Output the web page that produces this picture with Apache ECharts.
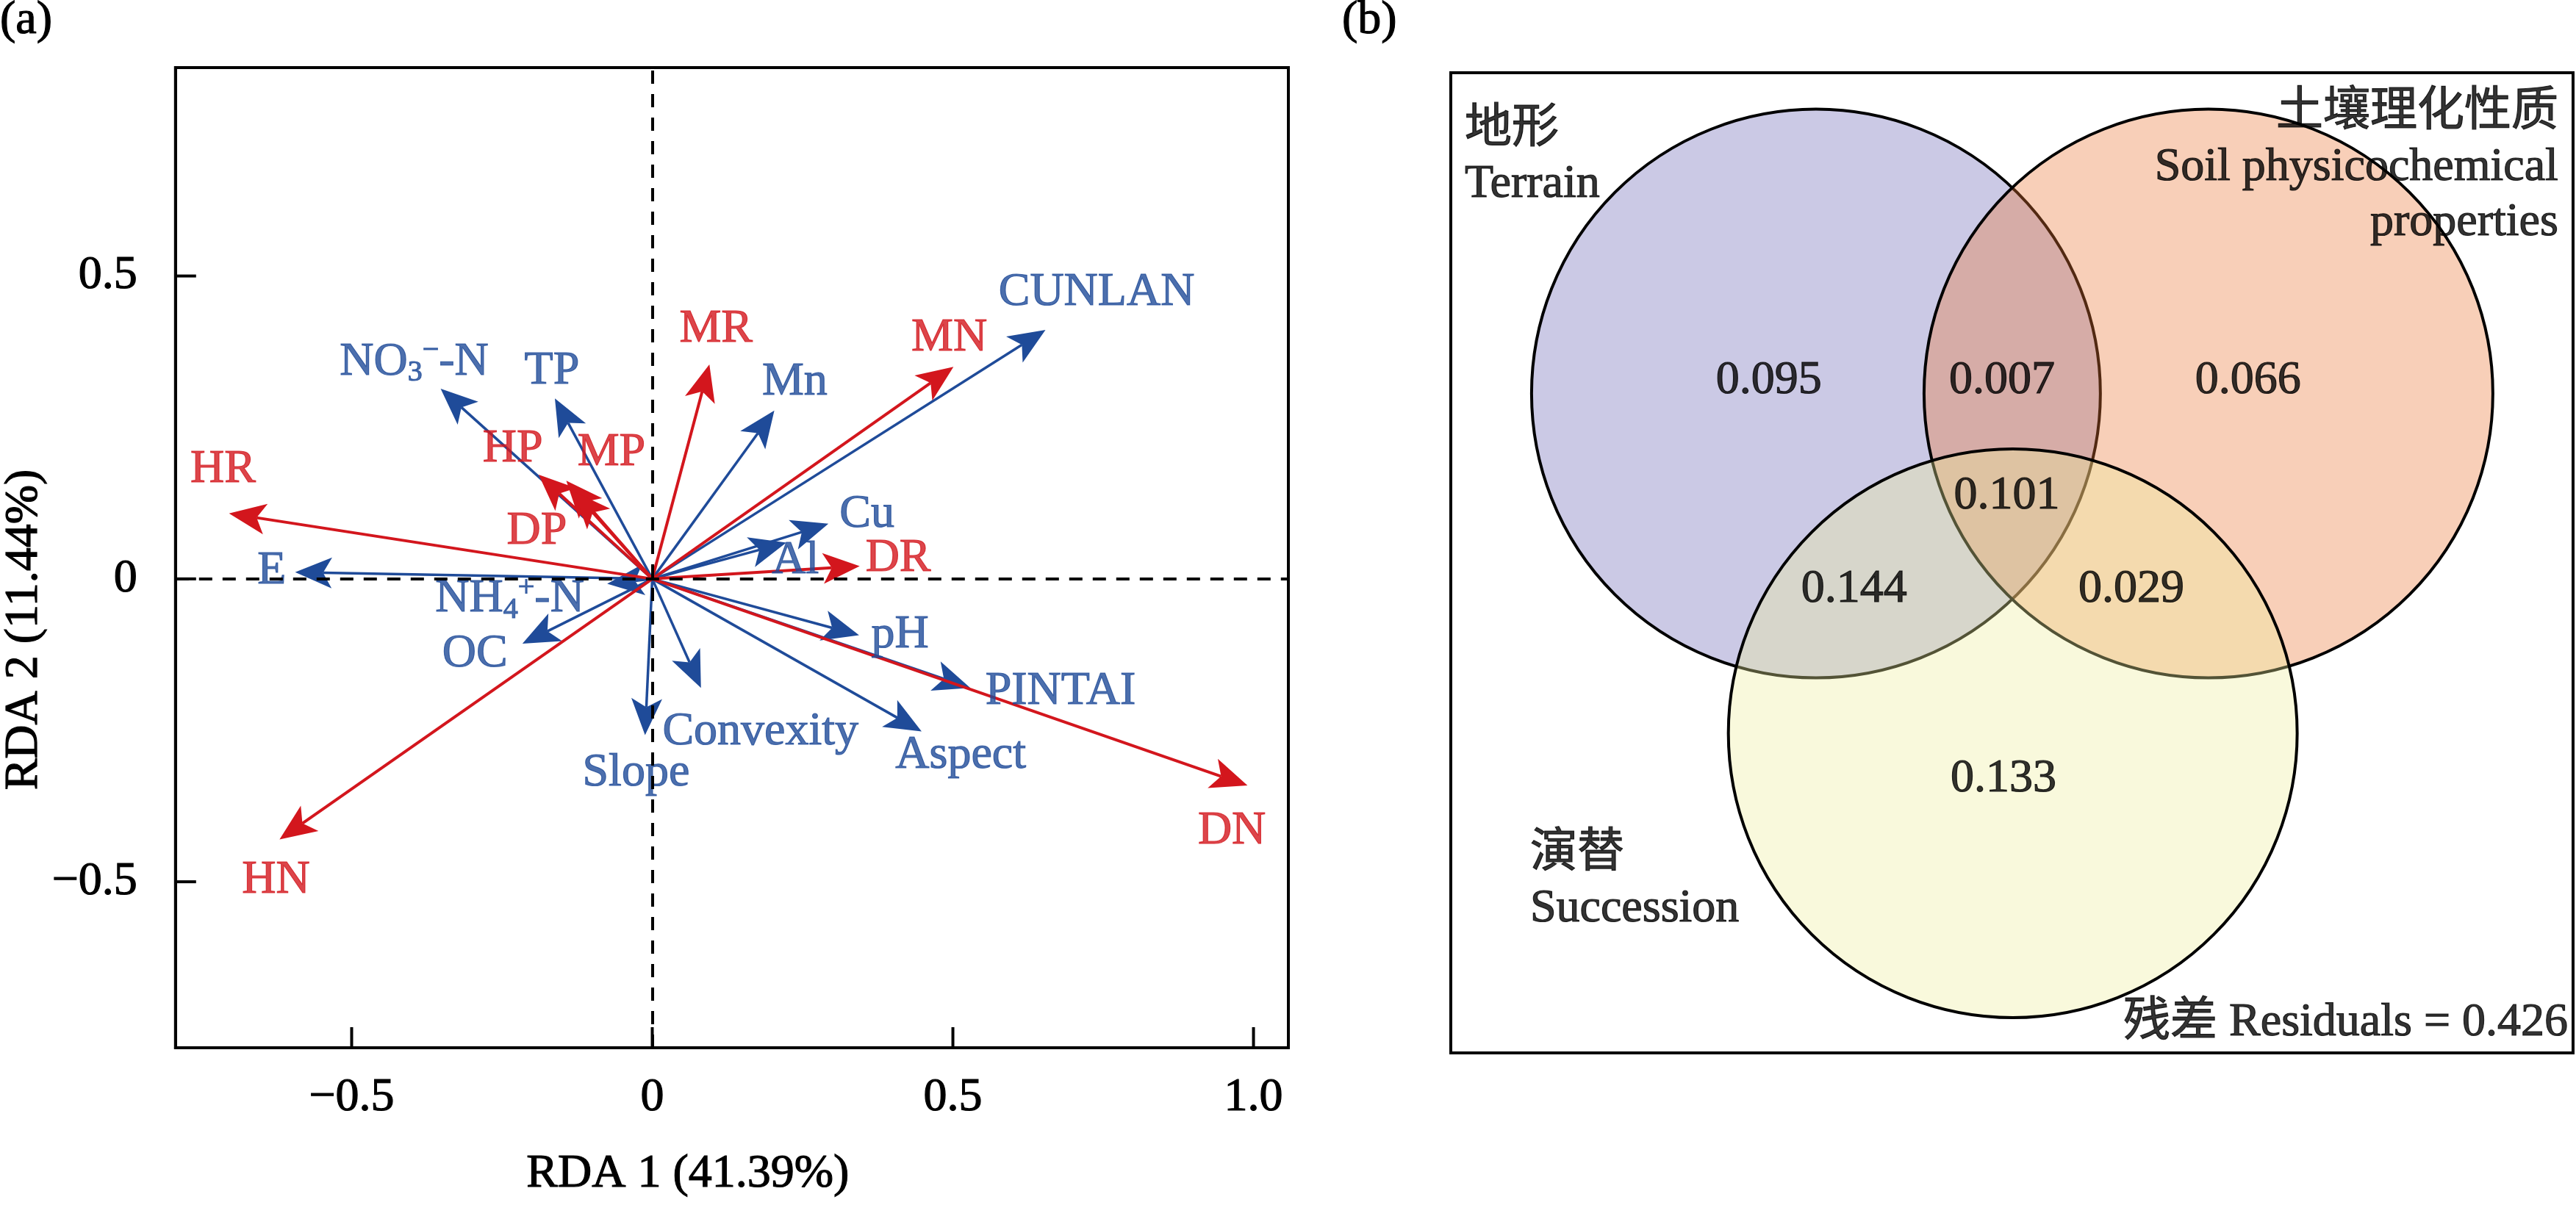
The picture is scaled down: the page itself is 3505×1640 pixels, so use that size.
<!DOCTYPE html>
<html>
<head>
<meta charset="utf-8">
<script src="https://cdn.jsdelivr.net/npm/echarts@6/dist/echarts.min.js"></script>
<style>
html,body{margin:0;padding:0;background:#fff;}
#chart{width:3505px;height:1640px;}
</style>
</head>
<body>
<div id="chart"></div>
<script>
// ---------- Panel (a): RDA biplot data ----------
const redNames = ['HR', 'HN', 'DN', 'MN', 'MR', 'HP', 'MP', 'DP', 'DR'];
const redX = [-0.704, -0.620, 0.990, 0.501, 0.095, -0.189, -0.143, -0.130, 0.345];
const redY = [0.108, -0.430, -0.341, 0.350, 0.354, 0.172, 0.162, 0.144, 0.021];
const redLabelX = [-0.714, -0.626, 0.964, 0.494, 0.106, -0.232, -0.068, -0.192, 0.409];
const redLabelY = [0.180, -0.498, -0.416, 0.398, 0.412, 0.214, 0.208, 0.078, 0.033];

const blueNames = ['CUNLAN', 'Mn', 'Cu', 'Al', 'pH', 'PINTAI', 'Aspect', 'Convexity', 'Slope', 'OC', 'NH4', 'E', 'NO3', 'TP'];
const blueX = [0.654, 0.203, 0.293, 0.223, 0.344, 0.529, 0.448, 0.081, -0.012, -0.216, -0.075, -0.594, -0.352, -0.162];
const blueY = [0.411, 0.278, 0.091, 0.060, -0.093, -0.180, -0.252, -0.180, -0.258, -0.107, -0.008, 0.011, 0.314, 0.298];
const blueLabelX = [0.739, 0.237, 0.357, 0.238, 0.412, 0.679, 0.513, 0.180, -0.027, -0.295, -0.237, -0.633, -0.396, -0.167];
const blueLabelY = [0.473, 0.325, 0.106, 0.030, -0.093, -0.186, -0.291, -0.253, -0.320, -0.124, -0.033, 0.0125, 0.358, 0.343];

const xTicks = [-0.5, 0, 0.5, 1.0];
const yTicks = [-0.5, 0, 0.5];
const xTitle = 'RDA 1 (41.39%)';
const yTitle = 'RDA 2 (11.44%)';

// ---------- Panel (b): variation partitioning (Venn) ----------
const setNames = ['地形\nTerrain', '土壤理化性质\nSoil physicochemical\nproperties', '演替\nSuccession'];
const circleX = [1.284, 2.664, 1.976];
const circleY = [1.128, 1.128, 2.323];
const circleR = [1, 1, 1];
const regionValues = [0.095, 0.007, 0.066, 0.101, 0.144, 0.029, 0.133];
const regionX = [1.118, 1.938, 2.803, 1.955, 1.418, 2.393, 1.943];
const regionY = [1.083, 1.083, 1.083, 1.488, 1.817, 1.817, 2.483];
const setLabelX = [0.049, 3.894, 0.279];
const setLabelY = [0.296, 0.333, 2.845];
const residualValue = 0.426;
const residualX = 3.928, residualY = 3.341;

// ---------- styles ----------
const RED = '#d3161d';
const BLUE = '#1f4b99';
const FONT = '"Liberation Serif", "Times New Roman", "Noto Sans CJK SC", serif';
const FS = 64;
const circleFill = ['rgba(106,101,181,0.35)', 'rgba(235,118,52,0.35)', 'rgba(238,238,155,0.35)'];
const BOLDEN = 1.2;
const TICK_LEN = 28;

function fmtTick(v) {
  if (v === 0) return '0';
  return (v < 0 ? '\u2212' : '') + Math.abs(v).toFixed(1);
}

function arrowRenderer(color, lw) {
  return function (params, api) {
    const o = api.coord([0, 0]);
    const t = api.coord([api.value(0), api.value(1)]);
    const dx = t[0] - o[0], dy = t[1] - o[1];
    const len = Math.hypot(dx, dy) || 1;
    const ux = dx / len, uy = dy / len, px = -uy, py = ux;
    const L = 50, W = 21, N = 12;
    const bx = t[0] - ux * L, by = t[1] - uy * L;
    const nx = t[0] - ux * (L - N), ny = t[1] - uy * (L - N);
    return {
      type: 'group',
      children: [
        { type: 'line', shape: { x1: o[0], y1: o[1], x2: nx, y2: ny }, style: { stroke: color, lineWidth: lw } },
        { type: 'polygon', shape: { points: [[t[0], t[1]], [bx + px * W, by + py * W], [nx, ny], [bx - px * W, by - py * W]] }, style: { fill: color } }
      ]
    };
  };
}

function tickRenderer(params, api) {
  const cs = params.coordSys;
  const isX = api.value(2) === 0;
  if (isX) {
    const x = api.coord([api.value(0), 0])[0];
    const yb = cs.y + cs.height;
    return { type: 'line', shape: { x1: x, y1: yb, x2: x, y2: yb - TICK_LEN }, style: { stroke: '#000', lineWidth: 4 } };
  }
  const y = api.coord([0, api.value(1)])[1];
  return { type: 'line', shape: { x1: cs.x, y1: y, x2: cs.x + TICK_LEN, y2: y }, style: { stroke: '#000', lineWidth: 4 } };
}

function labelText(name) {
  if (name === 'NO3') return '{m|NO}{s|3}{u|\u2212}{m|-N}';
  if (name === 'NH4') return '{m|NH}{s|4}{u|+}{m|-N}';
  return '{m|' + name + '}';
}
function richFor(color) {
  const b = { textBorderColor: color, textBorderWidth: BOLDEN };
  return {
    m: Object.assign({ fontSize: FS, fontFamily: FONT, color: color, lineHeight: 70 }, b),
    s: Object.assign({ fontSize: 40, fontFamily: FONT, color: color, lineHeight: 70, verticalAlign: 'bottom', padding: [22, 0, 0, 0] }, b),
    u: Object.assign({ fontSize: 40, fontFamily: FONT, color: color, lineHeight: 70, verticalAlign: 'top', padding: [0, 0, 26, 0] }, b)
  };
}
const blackText = { fontSize: FS, fontFamily: FONT, color: '#000', textBorderColor: '#000', textBorderWidth: BOLDEN };

const redArrows = redX.map((x, i) => [x, redY[i], redNames[i]]);
const blueArrows = blueX.map((x, i) => [x, blueY[i], blueNames[i]]);
const redLabels = redLabelX.map((x, i) => [x, redLabelY[i], redNames[i]]);
const blueLabels = blueLabelX.map((x, i) => [x, blueLabelY[i], blueNames[i]]);
const tickMarks = xTicks.map(v => [v, 0, 0]).concat(yTicks.map(v => [0, v, 1]));

const circles = circleX.map((x, i) => [x, circleY[i], circleR[i], i]);
const regionLabels = regionX.map((x, i) => [x, regionY[i], regionValues[i]]);
const setLabels = setLabelX.map((x, i) => ({
  value: [x, setLabelY[i], setNames[i]],
  label: { position: i === 1 ? 'left' : 'right', align: i === 1 ? 'right' : 'left' }
}));
setLabels.push({
  value: [residualX, residualY, '残差 Residuals = ' + residualValue.toFixed(3)],
  label: { position: 'left', align: 'right' }
});

const chart = echarts.init(document.getElementById('chart'), null, { renderer: 'canvas', devicePixelRatio: 1 });

const option = {
  animation: false,
  backgroundColor: '#fff',
  title: [
    { text: '(a)', left: 0, top: -4, textStyle: Object.assign({ fontWeight: 'normal' }, blackText), padding: 0 },
    { text: '(b)', left: 1826, top: -4, textStyle: Object.assign({ fontWeight: 'normal' }, blackText), padding: 0 }
  ],
  grid: [
    { left: 224, top: 92, width: 1529, height: 1334, show: true, borderColor: '#000', borderWidth: 4, backgroundColor: 'transparent' },
    { left: 1974, top: 99, width: 1527, height: 1334, show: true, borderColor: '#000', borderWidth: 4, backgroundColor: 'transparent' }
  ],
  xAxis: [
    {
      type: 'value', gridIndex: 0, min: -0.793, max: 1.058, position: 'bottom',
      axisLine: { show: true, onZero: false, lineStyle: { color: '#000', width: 4 } }, splitLine: { show: false },
      axisTick: { show: false },
      axisLabel: Object.assign({ customValues: xTicks, formatter: fmtTick, margin: 36 }, blackText),
      name: xTitle, nameLocation: 'middle', nameGap: 140,
      nameTextStyle: Object.assign({ padding: [0, 120, 0, 0] }, blackText)
    },
    { type: 'value', gridIndex: 1, min: 0, max: 3.946, show: false }
  ],
  yAxis: [
    {
      type: 'value', gridIndex: 0, min: -0.774, max: 0.844, position: 'left',
      axisLine: { show: true, onZero: false, lineStyle: { color: '#000', width: 4 } }, splitLine: { show: false },
      axisTick: { show: false },
      axisLabel: Object.assign({ customValues: yTicks, formatter: fmtTick, margin: 52 }, blackText),
      name: yTitle, nameLocation: 'middle', nameGap: 144,
      nameTextStyle: Object.assign({ padding: [0, 196, 0, 0] }, blackText)
    },
    { type: 'value', gridIndex: 1, min: 0, max: 3.447, inverse: true, show: false }
  ],
  series: [
    {
      type: 'scatter', xAxisIndex: 0, yAxisIndex: 0, data: [], symbolSize: 0, z: 1, silent: true,
      markLine: {
        silent: true, symbol: 'none', label: { show: false },
        lineStyle: { type: [18, 14], color: '#000', width: 4 },
        data: [{ xAxis: 0 }, { yAxis: 0 }]
      }
    },
    {
      type: 'custom', xAxisIndex: 0, yAxisIndex: 0, z: 5, silent: true, clip: false,
      encode: { x: 0, y: 1 }, data: tickMarks, renderItem: tickRenderer
    },
    {
      type: 'custom', xAxisIndex: 0, yAxisIndex: 0, z: 2, silent: true,
      encode: { x: 0, y: 1 }, data: blueArrows, renderItem: arrowRenderer(BLUE, 3.5)
    },
    {
      type: 'custom', xAxisIndex: 0, yAxisIndex: 0, z: 3, silent: true,
      encode: { x: 0, y: 1 }, data: redArrows, renderItem: arrowRenderer(RED, 4)
    },
    {
      type: 'scatter', xAxisIndex: 0, yAxisIndex: 0, z: 4, symbolSize: 0, silent: true,
      data: blueLabels,
      label: { show: true, position: 'inside', formatter: p => labelText(p.value[2]), rich: richFor(BLUE) }
    },
    {
      type: 'scatter', xAxisIndex: 0, yAxisIndex: 0, z: 4, symbolSize: 0, silent: true,
      data: redLabels,
      label: { show: true, position: 'inside', formatter: p => labelText(p.value[2]), rich: richFor(RED) }
    },
    {
      type: 'custom', xAxisIndex: 1, yAxisIndex: 1, z: 2, silent: true,
      encode: { x: 0, y: 1 }, data: circles,
      renderItem: function (params, api) {
        const c = api.coord([api.value(0), api.value(1)]);
        const r = api.size([api.value(2), api.value(2)])[0];
        return { type: 'circle', shape: { cx: c[0], cy: c[1], r: r }, style: { fill: circleFill[api.value(3)], stroke: '#000', lineWidth: 4 } };
      }
    },
    {
      type: 'scatter', xAxisIndex: 1, yAxisIndex: 1, z: 4, symbolSize: 0, silent: true,
      data: regionLabels,
      label: Object.assign({ show: true, position: 'inside', formatter: p => p.value[2].toFixed(3) }, blackText)
    },
    {
      type: 'scatter', xAxisIndex: 1, yAxisIndex: 1, z: 4, symbolSize: 0, silent: true,
      data: setLabels,
      label: Object.assign({ show: true, distance: 0, formatter: p => p.value[2], lineHeight: 75 }, blackText)
    }
  ]
};
chart.setOption(option);
</script>
</body>
</html>
